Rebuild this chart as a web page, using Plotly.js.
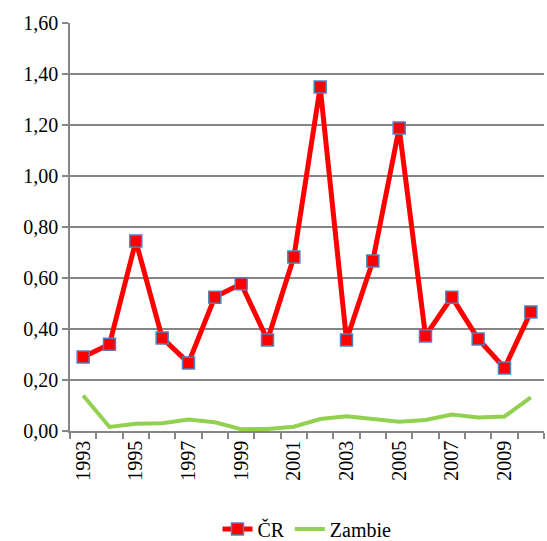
<!DOCTYPE html>
<html>
<head>
<meta charset="utf-8">
<script src="https://cdn.plot.ly/plotly-3.0.1.min.js"></script>
<style>
  html, body { margin: 0; padding: 0; background: #fff; }
  #chart { width: 547px; height: 541px; }
</style>
</head>
<body>
<div id="chart"></div>
<script>
const years = ["1993", "1994", "1995", "1996", "1997", "1998", "1999", "2000", "2001",
  "2002", "2003", "2004", "2005", "2006", "2007", "2008", "2009", "2010"];
const cr = [0.29, 0.34, 0.745, 0.365, 0.267, 0.525, 0.577, 0.357, 0.682,
  1.349, 0.357, 0.667, 1.188, 0.373, 0.525, 0.361, 0.247, 0.467];
const zambie = [0.139, 0.016, 0.028, 0.03, 0.045, 0.034, 0.007, 0.008, 0.017,
  0.047, 0.058, 0.048, 0.036, 0.043, 0.065, 0.053, 0.057, 0.132];
// only every other year gets a label
const yearLabels = years.map((y, i) => (i % 2 == 0 ? y : ""));
const yTicks = [0, 0.2, 0.4, 0.6, 0.8, 1.0, 1.2, 1.4, 1.6];

const serif = "Times New Roman, serif";

const crTrace = {
  x: years,
  y: cr,
  name: "ČR",
  type: "scatter",
  mode: "lines+markers",
  line: { color: "#ff0000", width: 5 },
  marker: { symbol: "square", size: 12, color: "#ff0000", line: { color: "#4f81bd", width: 1.5 } }
};

const zambieTrace = {
  x: years,
  y: zambie,
  name: "Zambie",
  type: "scatter",
  mode: "lines",
  line: { color: "#92d050", width: 4 }
};

const layout = {
  width: 547,
  height: 541,
  margin: { l: 70, r: 3, t: 23, b: 110 },
  paper_bgcolor: "#fff",
  plot_bgcolor: "#fff",
  font: { family: serif, size: 20, color: "#000" },
  showlegend: true,
  legend: {
    orientation: "h",
    x: 0.5,
    xanchor: "center",
    xref: "paper",
    yref: "container",
    y: 0.022,
    yanchor: "middle",
    font: { family: serif, size: 20 }
  },
  xaxis: {
    type: "category",
    range: [-0.5, 17.5],
    tickmode: "array",
    tickvals: years,
    ticktext: yearLabels,
    tickangle: -90,
    tickson: "boundaries",
    ticks: "outside",
    ticklen: 6,
    tickcolor: "#868686",
    tickwidth: 1.5,
    tickfont: { family: serif, size: 20 },
    showgrid: false,
    showline: true,
    linecolor: "#868686",
    linewidth: 1.5,
    zeroline: false,
    automargin: false
  },
  yaxis: {
    range: [0, 1.6],
    tickmode: "array",
    tickvals: yTicks,
    ticktext: yTicks.map(v => v.toFixed(2).replace(".", ",")),
    ticks: "outside",
    ticklen: 6,
    tickcolor: "#868686",
    tickwidth: 1.5,
    tickfont: { family: serif, size: 20 },
    showgrid: true,
    gridcolor: "#868686",
    gridwidth: 1.5,
    showline: true,
    linecolor: "#868686",
    linewidth: 1.5,
    zeroline: false,
    automargin: false
  }
};

Plotly.newPlot("chart", [crTrace, zambieTrace], layout, { displayModeBar: false });
</script>
</body>
</html>
